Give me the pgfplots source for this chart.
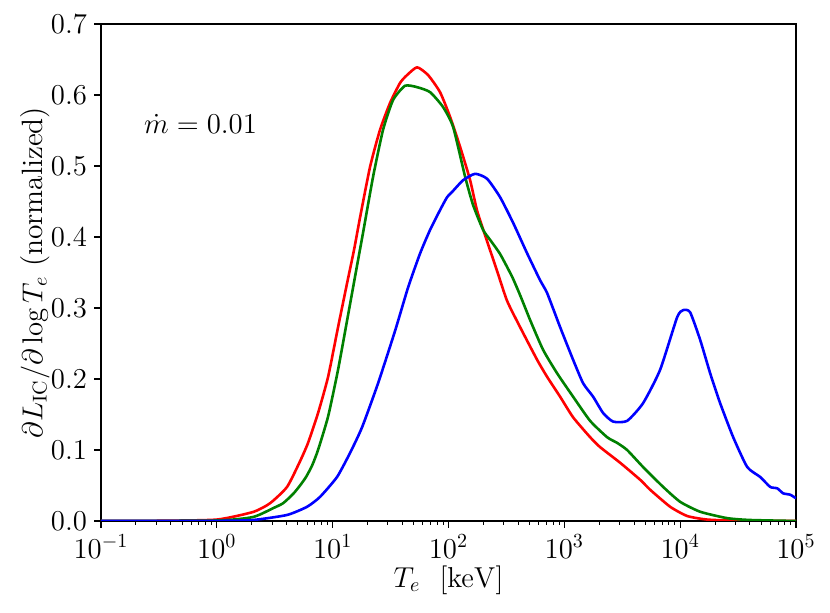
\documentclass[border=0pt]{standalone}
\usepackage{pgfplots}
\pgfplotsset{compat=1.18}
\definecolor{mplred}{RGB}{255,0,0}
\definecolor{mplgreen}{RGB}{0,128,0}
\definecolor{mplblue}{RGB}{0,0,255}
\begin{document}
\begin{tikzpicture}
\begin{axis}[
  scale only axis,
  width=347.5pt, height=248.5pt,
  xmode=log,
  xmin=0.1, xmax=1e5,
  ymin=0, ymax=0.7,
  ytick={0,0.1,0.2,0.3,0.4,0.5,0.6,0.7},
  yticklabel style={/pgf/number format/.cd,fixed,fixed zerofill,precision=1},
  tick pos=left,
  tick align=outside,
  major tick length=3.5pt,
  minor tick length=2pt,
  every tick/.style={black, line width=0.6pt},
  every minor tick/.style={black, line width=0.45pt},
  axis line style={line width=0.6pt},
  tick label style={font=\fontsize{14.7}{17}\selectfont},
  label style={font=\fontsize{14.7}{17}\selectfont},
  xlabel={$T_e~~[\mathrm{keV}]$},
  ylabel={$\partial L_{\mathrm{IC}}/\partial\log T_e$ (normalized)},
  xlabel style={at={(axis description cs:0.5,-0.119)}, anchor=center},
  ylabel style={at={(axis description cs:-0.095,0.5)}, anchor=center},
  every axis plot/.append style={line width=1.3pt, line join=round, no markers, smooth, tension=0.35},
]
% red
\addplot[mplred] coordinates {
(0.1,0.0) (0.316,0.0003) (1,0.002) (2.054,0.0127) (2.880,0.025) (4.039,0.048)
(5.224,0.084) (6.13,0.110) (7.48,0.152) (9.13,0.203) (11.13,0.273)
(13.32,0.335) (15.30,0.382)
(17.26,0.428) (21.04,0.499) (25.64,0.551) (31.33,0.589) (38.19,0.617)
(43.85,0.628) (53.58,0.639) (66.68,0.628) (84.53,0.604) (103.3,0.569)
(125.9,0.527) (153.7,0.480) (176.6,0.437) (215.4,0.394) (262.9,0.352)
(320.6,0.310) (415.3,0.273) (582.4,0.227) (710.5,0.203) (919.9,0.175)
(1191,0.146) (1671,0.118) (2037,0.104) (3034,0.082) (4519,0.058) (5508,0.044)
(8204,0.020) (11510,0.007) (17100,0.002) (32960,0.0003) (100000,0.0)
};
% green
\addplot[mplgreen] coordinates {
(0.1,0.0) (1,0.0007) (2.054,0.0056) (3.057,0.018) (3.731,0.025) (4.550,0.038)
(5.230,0.050) (5.892,0.062) (6.639,0.078) (7.478,0.100) (9.126,0.147)
(11.13,0.213) (13.58,0.290) (16.25,0.360) (18.30,0.406)
(22.34,0.485) (27.23,0.551) (33.24,0.593) (42.17,0.613) (53.58,0.611)
(69.35,0.604) (89.78,0.583) (109.6,0.555) (139.1,0.485) (163.1,0.445)
(199.0,0.410) (228.7,0.396) (279.0,0.376) (354.2,0.344) (415.3,0.318)
(506.7,0.283) (656.1,0.241) (866.7,0.208) (1191,0.175) (1671,0.141)
(2342,0.118) (2858,0.110) (3483,0.100) (4786,0.076) (7129,0.048)
(10000,0.027) (14890,0.013) (25470,0.004) (40180,0.0014) (100000,0.0)
};
% blue
\addplot[mplblue] coordinates {
(0.1,0.0) (1,0.0002) (2.054,0.0014) (4.039,0.0085) (6.010,0.020) (7.785,0.034)
(10.91,0.062) (14.14,0.096) (17.94,0.132) (24.66,0.194) (34.6,0.268)
(44.8,0.329) (56.9,0.377) (69.35,0.410) (84.6,0.438)
(97.2,0.456) (109.6,0.465) (133.7,0.480) (169.8,0.489) (215.4,0.482)
(279.0,0.456) (361.4,0.420) (477.3,0.377) (618.2,0.339) (710.5,0.321)
(919.9,0.273) (1191,0.227) (1453,0.194) (1773,0.175) (2164,0.152)
(2638,0.140) (3483,0.141) (4786,0.166) (6714,0.213) (9419,0.287)
(10620,0.297) (12190,0.294) (14890,0.255) (18160,0.208) (22130,0.166)
(28700,0.118) (37930,0.076) (49090,0.062) (59840,0.048) (68860,0.046)
(77450,0.039) (89130,0.037) (100000,0.032)
};
\node[anchor=west, font=\fontsize{14.7}{17}\selectfont] at (rel axis cs:0.052,0.799) {$\dot m = 0.01$};
\end{axis}
\pgfresetboundingbox
\path[use as bounding box] ([shift={(-50.5pt,-46pt)}]current axis.south west) rectangle ([shift={(17pt,12pt)}]current axis.north east);
\end{tikzpicture}
\end{document}
